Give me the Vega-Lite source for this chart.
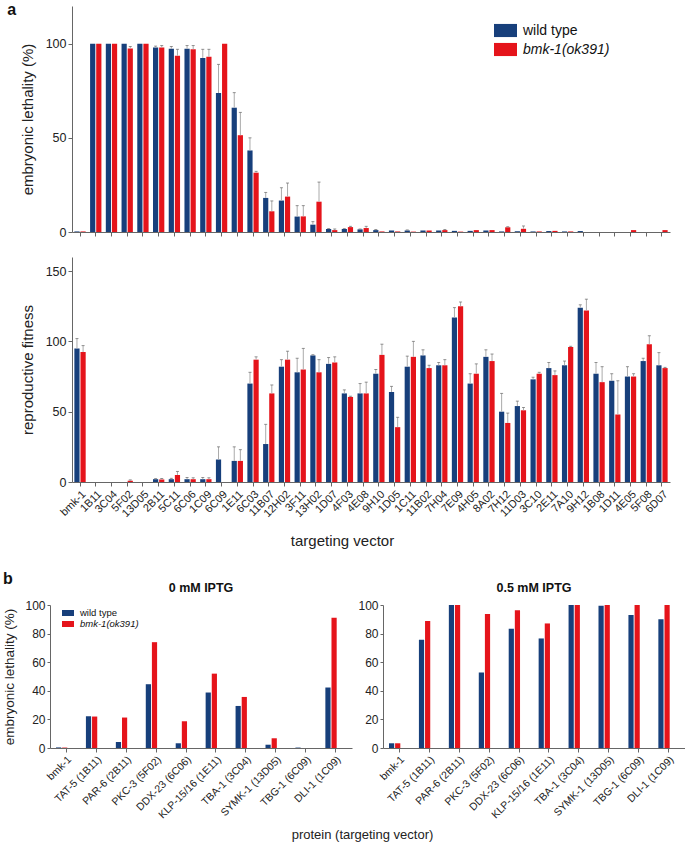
{
  "$schema": "https://vega.github.io/schema/vega-lite/v6.json",
  "padding": {"left": 2, "top": 2, "right": 0, "bottom": 0},
  "config": {
    "font": "Liberation Sans",
    "view": {"stroke": null},
    "axis": {"domainColor": "#666", "tickColor": "#666", "labelColor": "#222", "titleColor": "#222", "grid": false, "titleFontWeight": "normal"},
    "title": {"font": "Liberation Sans", "color": "#111"}
  },
  "datasets": {
    "a": [
      {"vector":"bmk-1","strain":"wild type","el":0.3,"el_hi":0.3,"rf":95,"rf_hi":102},
      {"vector":"1B11","strain":"wild type","el":100,"el_hi":100,"rf":0,"rf_hi":0},
      {"vector":"3C04","strain":"wild type","el":100,"el_hi":100,"rf":0,"rf_hi":0},
      {"vector":"5F02","strain":"wild type","el":100,"el_hi":100,"rf":0,"rf_hi":0},
      {"vector":"13D05","strain":"wild type","el":100,"el_hi":100,"rf":0,"rf_hi":0},
      {"vector":"2B11","strain":"wild type","el":98,"el_hi":98.7,"rf":2,"rf_hi":2.4},
      {"vector":"5C11","strain":"wild type","el":97.3,"el_hi":98.5,"rf":2,"rf_hi":2.6},
      {"vector":"6C06","strain":"wild type","el":97.3,"el_hi":99,"rf":2,"rf_hi":3.2},
      {"vector":"1C09","strain":"wild type","el":92.4,"el_hi":97,"rf":2,"rf_hi":3.2},
      {"vector":"6C09","strain":"wild type","el":73.8,"el_hi":89,"rf":16,"rf_hi":25},
      {"vector":"1E11","strain":"wild type","el":66,"el_hi":74,"rf":15,"rf_hi":25},
      {"vector":"6C03","strain":"wild type","el":43.3,"el_hi":50,"rf":70,"rf_hi":78},
      {"vector":"11B07","strain":"wild type","el":18.1,"el_hi":21,"rf":27,"rf_hi":41},
      {"vector":"12H02","strain":"wild type","el":16.7,"el_hi":23.5,"rf":82,"rf_hi":87},
      {"vector":"3F11","strain":"wild type","el":8.2,"el_hi":14,"rf":78,"rf_hi":88},
      {"vector":"13H02","strain":"wild type","el":3.9,"el_hi":5.5,"rf":90,"rf_hi":90.5},
      {"vector":"1D07","strain":"wild type","el":1.6,"el_hi":1.8,"rf":84,"rf_hi":88.5},
      {"vector":"4F03","strain":"wild type","el":1.6,"el_hi":1.8,"rf":63,"rf_hi":65.5},
      {"vector":"4E08","strain":"wild type","el":1.4,"el_hi":1.6,"rf":63,"rf_hi":70},
      {"vector":"9H10","strain":"wild type","el":1,"el_hi":1.3,"rf":77,"rf_hi":80},
      {"vector":"1D05","strain":"wild type","el":0.8,"el_hi":0.8,"rf":64,"rf_hi":68},
      {"vector":"1C11","strain":"wild type","el":0.8,"el_hi":1.1,"rf":82,"rf_hi":89.5},
      {"vector":"11B02","strain":"wild type","el":0.8,"el_hi":0.8,"rf":90,"rf_hi":94},
      {"vector":"7H04","strain":"wild type","el":0.8,"el_hi":0.8,"rf":83,"rf_hi":85},
      {"vector":"7E09","strain":"wild type","el":0.6,"el_hi":0.6,"rf":117,"rf_hi":124},
      {"vector":"4H05","strain":"wild type","el":0.6,"el_hi":0.6,"rf":70,"rf_hi":77},
      {"vector":"8A02","strain":"wild type","el":0.8,"el_hi":0.8,"rf":89,"rf_hi":94},
      {"vector":"7H12","strain":"wild type","el":0.3,"el_hi":0.3,"rf":50,"rf_hi":63},
      {"vector":"11D03","strain":"wild type","el":0.4,"el_hi":0.4,"rf":54,"rf_hi":57.5},
      {"vector":"3C10","strain":"wild type","el":0.3,"el_hi":0.3,"rf":73,"rf_hi":74.5},
      {"vector":"2E11","strain":"wild type","el":0.5,"el_hi":0.5,"rf":81,"rf_hi":85},
      {"vector":"7A10","strain":"wild type","el":0.3,"el_hi":0.3,"rf":83,"rf_hi":86},
      {"vector":"9H12","strain":"wild type","el":0.5,"el_hi":0.5,"rf":124,"rf_hi":126},
      {"vector":"1B08","strain":"wild type","el":0,"el_hi":0,"rf":77,"rf_hi":85},
      {"vector":"1D11","strain":"wild type","el":0,"el_hi":0,"rf":72,"rf_hi":77},
      {"vector":"4E05","strain":"wild type","el":0,"el_hi":0,"rf":75,"rf_hi":82},
      {"vector":"5F08","strain":"wild type","el":0,"el_hi":0,"rf":86,"rf_hi":88},
      {"vector":"6D07","strain":"wild type","el":0,"el_hi":0,"rf":83,"rf_hi":92},
      {"vector":"bmk-1","strain":"bmk-1(ok391)","el":0.3,"el_hi":0.3,"rf":92.4,"rf_hi":97},
      {"vector":"1B11","strain":"bmk-1(ok391)","el":100,"el_hi":100,"rf":0,"rf_hi":0},
      {"vector":"3C04","strain":"bmk-1(ok391)","el":100,"el_hi":100,"rf":0,"rf_hi":0},
      {"vector":"5F02","strain":"bmk-1(ok391)","el":97.5,"el_hi":98.5,"rf":0.9,"rf_hi":1.5},
      {"vector":"13D05","strain":"bmk-1(ok391)","el":100,"el_hi":100,"rf":0,"rf_hi":0},
      {"vector":"2B11","strain":"bmk-1(ok391)","el":98,"el_hi":99,"rf":1.8,"rf_hi":2.5},
      {"vector":"5C11","strain":"bmk-1(ok391)","el":93.6,"el_hi":97,"rf":5,"rf_hi":7.5},
      {"vector":"6C06","strain":"bmk-1(ok391)","el":97,"el_hi":99,"rf":2,"rf_hi":3},
      {"vector":"1C09","strain":"bmk-1(ok391)","el":93,"el_hi":97,"rf":2,"rf_hi":3},
      {"vector":"6C09","strain":"bmk-1(ok391)","el":100,"el_hi":100,"rf":0,"rf_hi":0},
      {"vector":"1E11","strain":"bmk-1(ok391)","el":51.4,"el_hi":63.5,"rf":15,"rf_hi":23},
      {"vector":"6C03","strain":"bmk-1(ok391)","el":31.5,"el_hi":32.2,"rf":87,"rf_hi":89},
      {"vector":"11B07","strain":"bmk-1(ok391)","el":11,"el_hi":16.5,"rf":63,"rf_hi":69},
      {"vector":"12H02","strain":"bmk-1(ok391)","el":18.8,"el_hi":26,"rf":87,"rf_hi":93},
      {"vector":"3F11","strain":"bmk-1(ok391)","el":8.3,"el_hi":14,"rf":80,"rf_hi":95},
      {"vector":"13H02","strain":"bmk-1(ok391)","el":16.1,"el_hi":26.5,"rf":78,"rf_hi":87},
      {"vector":"1D07","strain":"bmk-1(ok391)","el":1,"el_hi":1.6,"rf":85,"rf_hi":89},
      {"vector":"4F03","strain":"bmk-1(ok391)","el":2.6,"el_hi":3,"rf":60.5,"rf_hi":61},
      {"vector":"4E08","strain":"bmk-1(ok391)","el":2.1,"el_hi":3,"rf":63,"rf_hi":71},
      {"vector":"9H10","strain":"bmk-1(ok391)","el":0.3,"el_hi":0.3,"rf":90.4,"rf_hi":98},
      {"vector":"1D05","strain":"bmk-1(ok391)","el":0.3,"el_hi":0.3,"rf":39,"rf_hi":46},
      {"vector":"1C11","strain":"bmk-1(ok391)","el":0.2,"el_hi":0.2,"rf":89,"rf_hi":100},
      {"vector":"11B02","strain":"bmk-1(ok391)","el":0.8,"el_hi":0.8,"rf":81,"rf_hi":83},
      {"vector":"7H04","strain":"bmk-1(ok391)","el":1,"el_hi":1.3,"rf":83,"rf_hi":87},
      {"vector":"7E09","strain":"bmk-1(ok391)","el":0.2,"el_hi":0.2,"rf":125,"rf_hi":128},
      {"vector":"4H05","strain":"bmk-1(ok391)","el":1,"el_hi":1,"rf":77,"rf_hi":84},
      {"vector":"8A02","strain":"bmk-1(ok391)","el":1,"el_hi":1,"rf":86,"rf_hi":91},
      {"vector":"7H12","strain":"bmk-1(ok391)","el":2.5,"el_hi":2.8,"rf":42,"rf_hi":49},
      {"vector":"11D03","strain":"bmk-1(ok391)","el":1.7,"el_hi":3.2,"rf":51,"rf_hi":53},
      {"vector":"3C10","strain":"bmk-1(ok391)","el":0.3,"el_hi":0.3,"rf":77,"rf_hi":78},
      {"vector":"2E11","strain":"bmk-1(ok391)","el":0.6,"el_hi":0.6,"rf":76,"rf_hi":79},
      {"vector":"7A10","strain":"bmk-1(ok391)","el":0.3,"el_hi":0.3,"rf":96,"rf_hi":96.5},
      {"vector":"9H12","strain":"bmk-1(ok391)","el":0,"el_hi":0,"rf":122,"rf_hi":130},
      {"vector":"1B08","strain":"bmk-1(ok391)","el":0,"el_hi":0,"rf":71,"rf_hi":82},
      {"vector":"1D11","strain":"bmk-1(ok391)","el":0,"el_hi":0,"rf":48,"rf_hi":72},
      {"vector":"4E05","strain":"bmk-1(ok391)","el":1,"el_hi":1,"rf":75,"rf_hi":77},
      {"vector":"5F08","strain":"bmk-1(ok391)","el":0,"el_hi":0,"rf":98,"rf_hi":104},
      {"vector":"6D07","strain":"bmk-1(ok391)","el":1,"el_hi":1,"rf":81,"rf_hi":81.5}
    ],
    "b": [
      {"protein":"bmk-1","strain":"wild type","iptg":"0","el":0.4},
      {"protein":"TAT-5 (1B11)","strain":"wild type","iptg":"0","el":22.2},
      {"protein":"PAR-6 (2B11)","strain":"wild type","iptg":"0","el":4.2},
      {"protein":"PKC-3 (5F02)","strain":"wild type","iptg":"0","el":44.6},
      {"protein":"DDX-23 (6C06)","strain":"wild type","iptg":"0","el":3.3},
      {"protein":"KLP-15/16 (1E11)","strain":"wild type","iptg":"0","el":38.8},
      {"protein":"TBA-1 (3C04)","strain":"wild type","iptg":"0","el":29.4},
      {"protein":"SYMK-1 (13D05)","strain":"wild type","iptg":"0","el":2.3},
      {"protein":"TBG-1 (6C09)","strain":"wild type","iptg":"0","el":0.3},
      {"protein":"DLI-1 (1C09)","strain":"wild type","iptg":"0","el":42.3},
      {"protein":"bmk-1","strain":"bmk-1(ok391)","iptg":"0","el":0.3},
      {"protein":"TAT-5 (1B11)","strain":"bmk-1(ok391)","iptg":"0","el":22},
      {"protein":"PAR-6 (2B11)","strain":"bmk-1(ok391)","iptg":"0","el":21.3},
      {"protein":"PKC-3 (5F02)","strain":"bmk-1(ok391)","iptg":"0","el":74},
      {"protein":"DDX-23 (6C06)","strain":"bmk-1(ok391)","iptg":"0","el":18.7},
      {"protein":"KLP-15/16 (1E11)","strain":"bmk-1(ok391)","iptg":"0","el":52},
      {"protein":"TBA-1 (3C04)","strain":"bmk-1(ok391)","iptg":"0","el":35.7},
      {"protein":"SYMK-1 (13D05)","strain":"bmk-1(ok391)","iptg":"0","el":6.8},
      {"protein":"TBG-1 (6C09)","strain":"bmk-1(ok391)","iptg":"0","el":0},
      {"protein":"DLI-1 (1C09)","strain":"bmk-1(ok391)","iptg":"0","el":91},
      {"protein":"bmk-1","strain":"wild type","iptg":"0.5","el":3.3},
      {"protein":"TAT-5 (1B11)","strain":"wild type","iptg":"0.5","el":75.7},
      {"protein":"PAR-6 (2B11)","strain":"wild type","iptg":"0.5","el":100},
      {"protein":"PKC-3 (5F02)","strain":"wild type","iptg":"0.5","el":52.8},
      {"protein":"DDX-23 (6C06)","strain":"wild type","iptg":"0.5","el":83.4},
      {"protein":"KLP-15/16 (1E11)","strain":"wild type","iptg":"0.5","el":76.6},
      {"protein":"TBA-1 (3C04)","strain":"wild type","iptg":"0.5","el":100},
      {"protein":"SYMK-1 (13D05)","strain":"wild type","iptg":"0.5","el":99.5},
      {"protein":"TBG-1 (6C09)","strain":"wild type","iptg":"0.5","el":93},
      {"protein":"DLI-1 (1C09)","strain":"wild type","iptg":"0.5","el":90},
      {"protein":"bmk-1","strain":"bmk-1(ok391)","iptg":"0.5","el":3.3},
      {"protein":"TAT-5 (1B11)","strain":"bmk-1(ok391)","iptg":"0.5","el":88.8},
      {"protein":"PAR-6 (2B11)","strain":"bmk-1(ok391)","iptg":"0.5","el":100},
      {"protein":"PKC-3 (5F02)","strain":"bmk-1(ok391)","iptg":"0.5","el":93.7},
      {"protein":"DDX-23 (6C06)","strain":"bmk-1(ok391)","iptg":"0.5","el":96.3},
      {"protein":"KLP-15/16 (1E11)","strain":"bmk-1(ok391)","iptg":"0.5","el":87.1},
      {"protein":"TBA-1 (3C04)","strain":"bmk-1(ok391)","iptg":"0.5","el":100},
      {"protein":"SYMK-1 (13D05)","strain":"bmk-1(ok391)","iptg":"0.5","el":100},
      {"protein":"TBG-1 (6C09)","strain":"bmk-1(ok391)","iptg":"0.5","el":100},
      {"protein":"DLI-1 (1C09)","strain":"bmk-1(ok391)","iptg":"0.5","el":100}
    ]
  },
  "spacing": 21,
  "vconcat": [
    {
      "title": {"text": "a", "anchor": "start", "frame": "bounds", "fontSize": 16, "fontWeight": "bold", "offset": -12, "dx": -13},
      "spacing": 18,
      "resolve": {"legend": {"color": "independent"}},
      "vconcat": [
        {
          "width": 620,
          "height": 226,
          "data": {"name": "a"},
          "encoding": {
            "x": {"field": "vector", "type": "nominal", "sort": null, "scale": {"range": [22, 620], "paddingInner": 0.28, "paddingOuter": 0.15}, "axis": {"labels": false, "title": null, "tickSize": 4}},
            "xOffset": {"field": "strain", "type": "nominal", "sort": ["wild type", "bmk-1(ok391)"], "scale": {"paddingInner": 0.15, "paddingOuter": 0}}
          },
          "layer": [
            {
              "mark": {"type": "bar"},
              "encoding": {
                "y": {"field": "el", "type": "quantitative", "scale": {"domain": [0, 120]}, "axis": {"offset": -22, "values": [0, 50, 100], "title": "embryonic lethality (%)", "titleFontSize": 15, "labelFontSize": 12.5, "tickSize": 4, "titlePadding": 10}},
                "color": {"field": "strain", "type": "nominal", "scale": {"domain": ["wild type", "bmk-1(ok391)"], "range": ["#173f7b", "#e5141b"]},
                  "legend": {"orient": "none", "legendX": 444, "legendY": 13, "title": null, "padding": 0, "rowPadding": 0, "labelOffset": 6, "labelFontSize": 14, "labelColor": "#111", "symbolType": "M-1,-0.57L1,-0.57L1,0.57L-1,0.57Z", "symbolSize": 529, "symbolStrokeWidth": 0, "symbolOpacity": 1,
                    "labelFontStyle": {"expr": "datum.label == 'wild type' ? 'normal' : 'italic'"}}}
              }
            },
            {
              "transform": [{"filter": "datum.el_hi > datum.el"}],
              "mark": {"type": "rule", "color": "#aaaaaa", "strokeWidth": 1},
              "encoding": {"y": {"field": "el", "type": "quantitative"}, "y2": {"field": "el_hi"}}
            },
            {
              "transform": [{"filter": "datum.el_hi > datum.el"}],
              "mark": {"type": "tick", "color": "#666666", "size": 3, "thickness": 1, "orient": "horizontal"},
              "encoding": {"y": {"field": "el_hi", "type": "quantitative"}}
            }
          ]
        },
        {
          "width": 620,
          "height": 225,
          "data": {"name": "a"},
          "encoding": {
            "x": {"field": "vector", "type": "nominal", "sort": null, "scale": {"range": [22, 620], "paddingInner": 0.28, "paddingOuter": 0.15}, "axis": {"labelAngle": -45, "labelFontSize": 11, "tickSize": 4, "title": "targeting vector", "titleFontSize": 15, "titleX": 292, "titlePadding": 15}},
            "xOffset": {"field": "strain", "type": "nominal", "sort": ["wild type", "bmk-1(ok391)"], "scale": {"paddingInner": 0.15, "paddingOuter": 0}}
          },
          "layer": [
            {
              "mark": {"type": "bar"},
              "encoding": {
                "y": {"field": "rf", "type": "quantitative", "scale": {"domain": [0, 150]}, "axis": {"offset": -22, "values": [0, 50, 100, 150], "title": "reproductive fitness", "titleFontSize": 15, "labelFontSize": 12.5, "tickSize": 4, "titlePadding": 10}},
                "color": {"field": "strain", "type": "nominal", "scale": {"domain": ["wild type", "bmk-1(ok391)"], "range": ["#173f7b", "#e5141b"]}, "legend": null}
              }
            },
            {
              "transform": [{"filter": "datum.rf_hi > datum.rf"}],
              "mark": {"type": "rule", "color": "#aaaaaa", "strokeWidth": 1},
              "encoding": {"y": {"field": "rf", "type": "quantitative"}, "y2": {"field": "rf_hi"}}
            },
            {
              "transform": [{"filter": "datum.rf_hi > datum.rf"}],
              "mark": {"type": "tick", "color": "#666666", "size": 3, "thickness": 1, "orient": "horizontal"},
              "encoding": {"y": {"field": "rf_hi", "type": "quantitative"}}
            }
          ]
        }
      ]
    },
    {
      "title": {"text": "b", "anchor": "start", "frame": "bounds", "fontSize": 16, "fontWeight": "bold", "offset": -5},
      "bounds": "flush",
      "spacing": 31,
      "resolve": {"legend": {"color": "independent"}},
      "hconcat": [
        {
          "width": 302,
          "height": 143,
          "title": {"text": "0 mM IPTG", "fontSize": 12.5, "fontWeight": "bold", "offset": 5},
          "data": {"name": "b"},
          "transform": [{"filter": "datum.iptg == '0'"}],
          "mark": {"type": "bar"},
          "encoding": {
            "x": {"field": "protein", "type": "nominal", "sort": null, "scale": {"paddingInner": 0.31, "paddingOuter": 0.2}, "axis": {"labelAngle": -45, "labelFontSize": 10.5, "tickSize": 4, "title": "protein (targeting vector)", "titleFontSize": 13, "titleX": 312, "titlePadding": 8}},
            "xOffset": {"field": "strain", "type": "nominal", "sort": ["wild type", "bmk-1(ok391)"], "scale": {"paddingInner": 0.33, "paddingOuter": 0}},
            "y": {"field": "el", "type": "quantitative", "scale": {"domain": [0, 100]}, "axis": {"values": [0, 20, 40, 60, 80, 100], "title": "embryonic lethality (%)", "titleFontSize": 13.5, "labelFontSize": 12, "tickSize": 3, "labelPadding": 2, "titlePadding": 8}},
            "color": {"field": "strain", "type": "nominal", "scale": {"domain": ["wild type", "bmk-1(ok391)"], "range": ["#173f7b", "#e5141b"]},
              "legend": {"orient": "none", "legendX": 12, "legendY": 2, "title": null, "padding": 0, "rowPadding": 0, "labelOffset": 6, "labelFontSize": 9.5, "labelColor": "#111", "symbolType": "M-1,-0.5L1,-0.5L1,0.5L-1,0.5Z", "symbolSize": 144, "symbolStrokeWidth": 0, "symbolOpacity": 1,
                "labelFontStyle": {"expr": "datum.label == 'wild type' ? 'normal' : 'italic'"}}}
          }
        },
        {
          "width": 302,
          "height": 143,
          "title": {"text": "0.5 mM IPTG", "fontSize": 12.5, "fontWeight": "bold", "offset": 5},
          "data": {"name": "b"},
          "transform": [{"filter": "datum.iptg == '0.5'"}],
          "mark": {"type": "bar"},
          "encoding": {
            "x": {"field": "protein", "type": "nominal", "sort": null, "scale": {"paddingInner": 0.31, "paddingOuter": 0.2}, "axis": {"labelAngle": -45, "labelFontSize": 10.5, "tickSize": 4, "title": null}},
            "xOffset": {"field": "strain", "type": "nominal", "sort": ["wild type", "bmk-1(ok391)"], "scale": {"paddingInner": 0.33, "paddingOuter": 0}},
            "y": {"field": "el", "type": "quantitative", "scale": {"domain": [0, 100]}, "axis": {"values": [0, 20, 40, 60, 80, 100], "title": null, "labelFontSize": 12, "tickSize": 3, "labelPadding": 2}},
            "color": {"field": "strain", "type": "nominal", "scale": {"domain": ["wild type", "bmk-1(ok391)"], "range": ["#173f7b", "#e5141b"]}, "legend": null}
          }
        }
      ]
    }
  ]
}
